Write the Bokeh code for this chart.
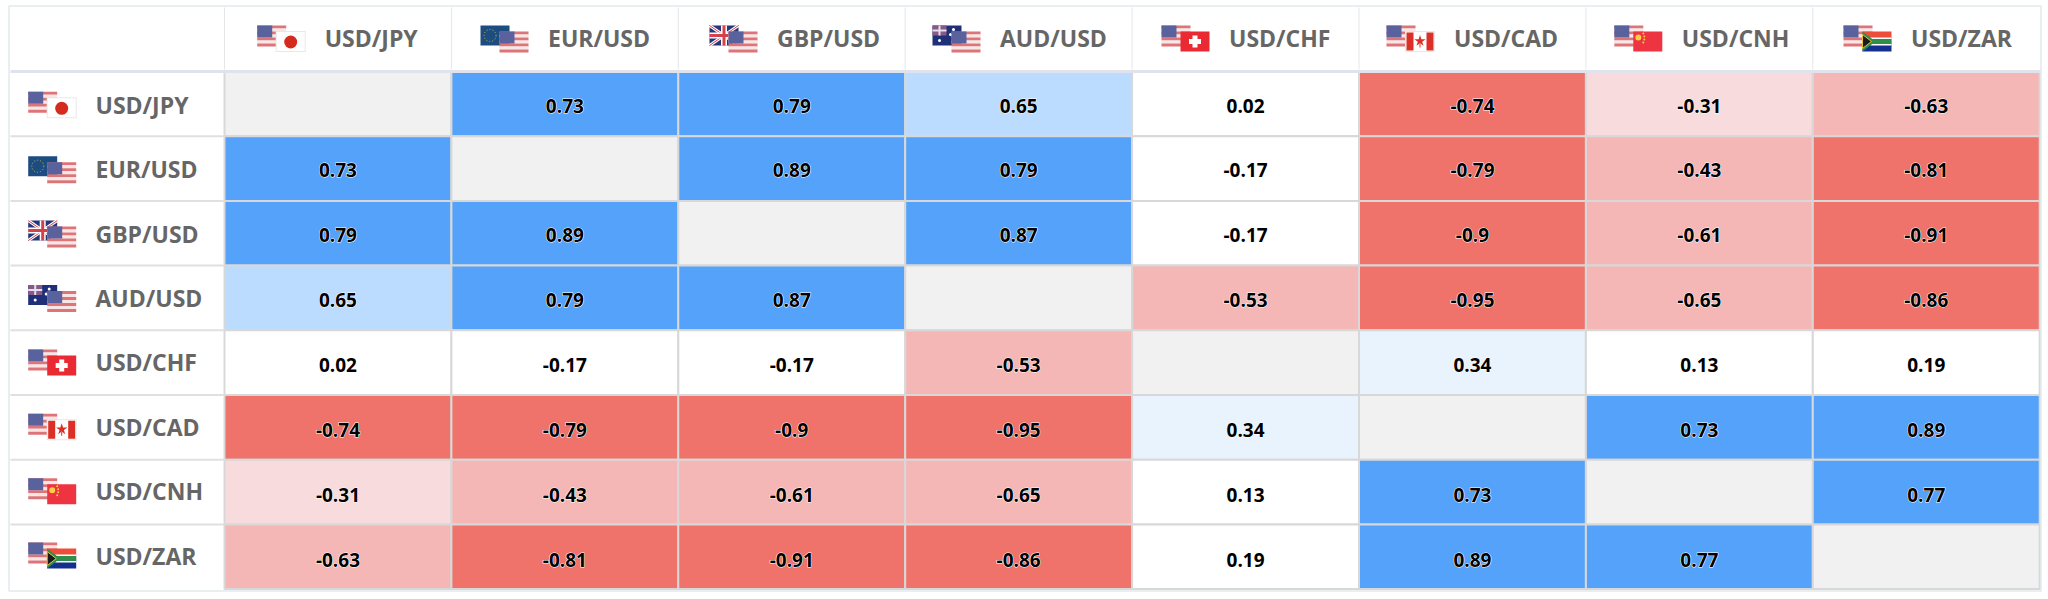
from bokeh.plotting import figure
from bokeh.models import ColumnDataSource
from bokeh.embed import file_html
from bokeh.resources import INLINE
from bokeh.core.properties import value

pairs = ["USD/JPY", "EUR/USD", "GBP/USD", "AUD/USD", "USD/CHF", "USD/CAD", "USD/CNH", "USD/ZAR"]
row_jpy = [None, 0.73, 0.79, 0.65, 0.02, -0.74, -0.31, -0.63]
row_eur = [0.73, None, 0.89, 0.79, -0.17, -0.79, -0.43, -0.81]
row_gbp = [0.79, 0.89, None, 0.87, -0.17, -0.9, -0.61, -0.91]
row_aud = [0.65, 0.79, 0.87, None, -0.53, -0.95, -0.65, -0.86]
row_chf = [0.02, -0.17, -0.17, -0.53, None, 0.34, 0.13, 0.19]
row_cad = [-0.74, -0.79, -0.9, -0.95, 0.34, None, 0.73, 0.89]
row_cnh = [-0.31, -0.43, -0.61, -0.65, 0.13, 0.73, None, 0.77]
row_zar = [-0.63, -0.81, -0.91, -0.86, 0.19, 0.89, 0.77, None]
matrix = [row_jpy, row_eur, row_gbp, row_aud, row_chf, row_cad, row_cnh, row_zar]

W, H = 2042, 592
COL0, COLW = 224.0, 226.9
ROW0, ROWH = 71.0, 64.7


def colour(v):
    if v is None:
        return "#f1f1f1"
    if v >= 0.7:
        return "#54a2f9"
    if v >= 0.5:
        return "#bbdcfe"
    if v >= 0.3:
        return "#e8f3fd"
    if v > -0.3:
        return "#ffffff"
    if v > -0.4:
        return "#f8dbdc"
    if v > -0.7:
        return "#f5b7b5"
    return "#ef736b"


# Scales: x counts columns, y counts rows; column/row 0 is the first data cell.
x_start = -(COL0 + COLW / 2) / COLW
y_start = (H - (ROW0 + ROWH / 2)) / ROWH
y_end = -(ROW0 + ROWH / 2) / ROWH
x_end = (W - (COL0 + COLW / 2)) / COLW

p = figure(width=W, height=H, x_range=(x_start, x_end), y_range=(y_start, y_end),
           output_backend="svg", toolbar_location=None, min_border=0,
           outline_line_color=None, background_fill_color="white")
p.xaxis.visible = False
p.yaxis.visible = False
p.grid.visible = False


def X(px):
    return (px - COL0) / COLW - 0.5


def Y(py):
    return (py - ROW0) / ROWH - 0.5


def box(x, y, w, h, color, alpha=1.0):
    p.quad(left=[X(x)], right=[X(x + w)], top=[Y(y)], bottom=[Y(y + h)],
           fill_color=color, fill_alpha=alpha, line_color=None)


def us(x, y):
    for i in range(7):
        box(x, y + i * 3, 29, 3, "#dc7478" if i % 2 == 0 else "#f6e6e6")
    box(x, y, 15, 12, "#5a629e")


def flag(code, x, y):
    w, h = 29, 20
    if code == "EUR":
        box(x, y, w, h, "#1d4d80")
        p.scatter(x=[X(x + w * 0.33)], y=[Y(y + h * 0.5)], size=12, marker="circle",
                  fill_color=None, line_color="#c9b83a", line_width=1, line_dash="1 2")
    elif code == "USD":
        us(x, y)
    elif code == "JPY":
        box(x - 0.5, y - 0.5, w + 1, h + 1, "#e8e8e8")
        box(x + 0.5, y + 0.5, w - 1, h - 1, "white")
        p.scatter(x=[X(x + 14.5)], y=[Y(y + 10.5)], size=13, marker="circle",
                  fill_color="#d52b1e", line_color=None)
    elif code == "GBP":
        box(x, y, w, h, "#27357a")
        p.segment(x0=[X(x), X(x)], y0=[Y(y), Y(y + h)], x1=[X(x + w), X(x + w)], y1=[Y(y + h), Y(y)],
                  line_color="#ffffff", line_width=3)
        p.segment(x0=[X(x), X(x)], y0=[Y(y), Y(y + h)], x1=[X(x + w), X(x + w)], y1=[Y(y + h), Y(y)],
                  line_color="#d5404b", line_width=1)
        box(x + w / 2 - 3, y, 6, h, "white")
        box(x, y + h / 2 - 3, w, 6, "white")
        box(x + w / 2 - 1.5, y, 3, h, "#d5404b")
        box(x, y + h / 2 - 1.5, w, 3, "#d5404b")
    elif code == "AUD":
        box(x, y, w, h, "#1f2f78")
        box(x, y, 14, 10, "#8a5a86")
        box(x + 6, y, 2, 10, "#e0e0ee")
        box(x, y + 4, 14, 2, "#e0e0ee")
        p.scatter(x=[X(x + 7), X(x + 21), X(x + 24), X(x + 18), X(x + 21)],
                  y=[Y(y + 15), Y(y + 4), Y(y + 9), Y(y + 9), Y(y + 16)],
                  size=3, marker="circle", fill_color="white", line_color=None)
    elif code == "CHF":
        box(x, y, w, h, "#ea2a33")
        box(x + 12, y + 4, 5, 12, "white")
        box(x + 8.5, y + 7.5, 12, 5, "white")
    elif code == "CAD":
        box(x - 0.5, y - 0.5, w + 1, h + 1, "#e8e8e8")
        box(x + 0.5, y + 0.5, w - 1, h - 1, "white")
        box(x + 1, y + 1, 7, h - 2, "#dc3027")
        box(x + w - 8, y + 1, 7, h - 2, "#dc3027")
        p.scatter(x=[X(x + w / 2)], y=[Y(y + h / 2 - 0.5)], size=12, marker="star",
                  fill_color="#dc3027", line_color=None)
        box(x + w / 2 - 0.5, y + h / 2 + 2, 1, 4, "#dc3027")
    elif code == "CNH":
        box(x, y, w, h, "#ee3440")
        p.scatter(x=[X(x + 5), X(x + 10), X(x + 11), X(x + 11), X(x + 10)],
                  y=[Y(y + 6), Y(y + 2), Y(y + 5), Y(y + 8), Y(y + 11)],
                  size=[6, 2, 2, 2, 2], marker="circle", fill_color="#f7d046", line_color=None)
    elif code == "ZAR":
        box(x, y, w, h / 2, "#ee4d3a")
        box(x, y + h / 2, w, h / 2, "#13308f")
        box(x + 8, y + h / 2 - 4, w - 8, 8, "white")
        box(x + 8, y + h / 2 - 2.5, w - 8, 5, "#2f8f4a")
        p.patch(x=[X(x), X(x + 13), X(x)], y=[Y(y), Y(y + h / 2), Y(y + h)],
                fill_color="#2f8f4a", line_color=None)
        p.patch(x=[X(x), X(x + 9), X(x)], y=[Y(y + 3), Y(y + h / 2), Y(y + h - 3)],
                fill_color="#1c1c1c", line_color="#e8c23a", line_width=1)


def pair_flags(name, x, y):
    base, quote = name.split("/")
    if base == "USD":
        flag("USD", x, y)
        flag(quote, x + 19, y + 6)
    else:
        flag(base, x, y)
        flag("USD", x + 19, y + 6)


# cells
xs, ys, cols, labels, tx, ty = [], [], [], [], [], []
for r, row in enumerate(matrix):
    for c, v in enumerate(row):
        xs.append(c)
        ys.append(r)
        cols.append(colour(v))
        if v is not None:
            labels.append(str(v))
            tx.append(c)
            ty.append(Y(105.0 + 64.9 * r))

p.rect(x="x", y="y", width=1, height=1, fill_color="c", line_color="#d8d8d8", line_width=2,
       source=ColumnDataSource(dict(x=xs, y=ys, c=cols)))

# table rules
p.segment(x0=[X(10)], x1=[X(W - 2)], y0=[-0.5], y1=[-0.5], line_color="#e0e2ec", line_width=3)
for r in range(1, 8):
    p.segment(x0=[X(10)], x1=[X(COL0)], y0=[r - 0.5], y1=[r - 0.5], line_color="#e0e0e0", line_width=2)
for c in range(0, 8):
    p.segment(x0=[c - 0.5], x1=[c - 0.5], y0=[Y(7)], y1=[Y(69)], line_color="#e3e6e8", line_width=1)
p.quad(left=[X(8.5)], right=[X(2040.5)], top=[Y(5.5)], bottom=[Y(590.5)],
       fill_color=None, line_color="#e2e9ec", line_width=1.5)

# white halo beneath the black value text
vsrc = ColumnDataSource(dict(x=tx, y=ty, t=labels))
p.text(x="x", y="y", text="t", source=vsrc, text_align="center", text_baseline="middle",
       text_color="white", text_outline_color="white", text_font=value("Open Sans"),
       text_font_style="bold", text_font_size="19px")
p.text(x="x", y="y", text="t", source=vsrc, text_align="center", text_baseline="middle",
       text_color="#000000", text_font=value("Open Sans"), text_font_style="bold",
       text_font_size="19px")

# header and row labels
head_x = [256.7, 480, 709, 932, 1161, 1386, 1613.8, 1843]
for i, name in enumerate(pairs):
    pair_flags(name, head_x[i], 25)
    pair_flags(name, 27.7, 91.3 + 64.4 * i)

p.text(x=[X(a + 67.5) for a in head_x], y=[Y(37.5)] * 8, text=pairs, text_align="left",
       text_baseline="middle", text_color="#666666", text_font=value("Open Sans"),
       text_font_style="bold", text_font_size="23px")
p.text(x=[X(95)] * 8, y=[Y(104.3 + 64.4 * i) for i in range(8)], text=pairs, text_align="left",
       text_baseline="middle", text_color="#666666", text_font=value("Open Sans"),
       text_font_style="bold", text_font_size="23px")

open("out.html", "w").write(file_html(p, INLINE))
